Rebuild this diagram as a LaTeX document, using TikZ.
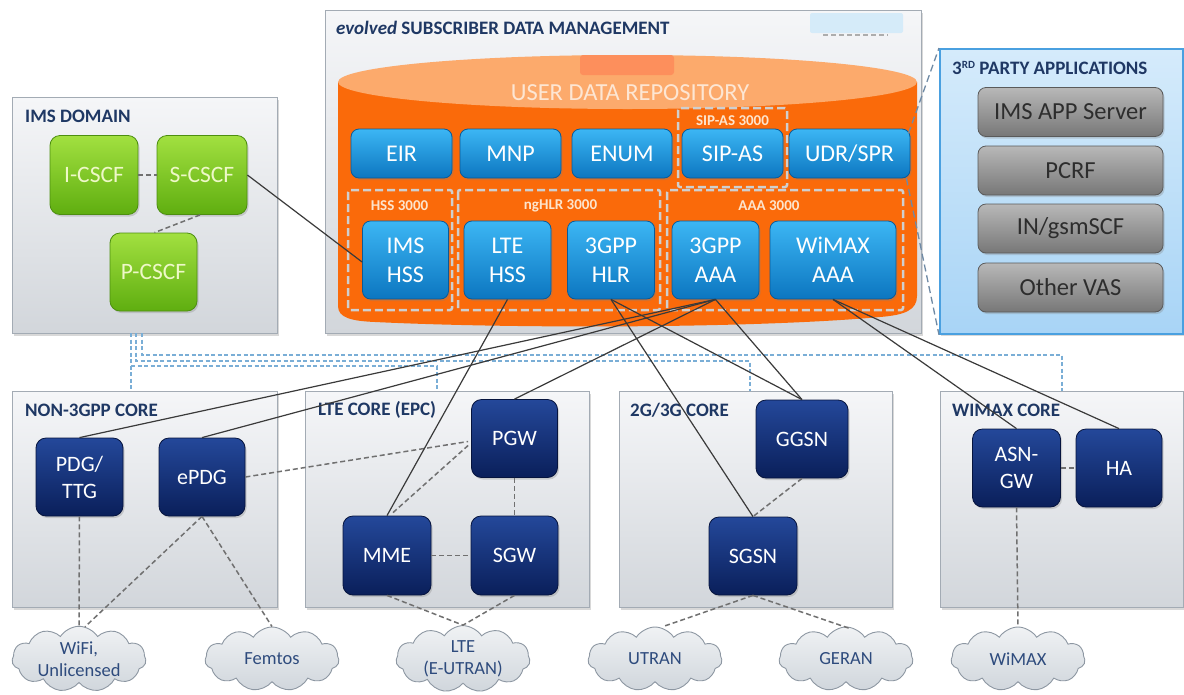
\documentclass[tikz,border=0pt]{standalone}
\usepackage{fontspec}
\setmainfont{Carlito}
\usetikzlibrary{shapes.symbols,shadows,calc}
\definecolor{boxT}{HTML}{F5F6F8}
\definecolor{boxBo}{HTML}{D2D6DB}
\definecolor{boxB}{HTML}{A3ABB4}
\definecolor{orng}{HTML}{FA6A0A}
\definecolor{orngL}{HTML}{FCAA6C}
\definecolor{salmon}{HTML}{FD8F5C}
\definecolor{bluT}{HTML}{3CB6F4}
\definecolor{bluB}{HTML}{0C76C0}
\definecolor{bluD}{HTML}{0A5A98}
\definecolor{grnT}{HTML}{A2E040}
\definecolor{grnB}{HTML}{5FAE10}
\definecolor{grnD}{HTML}{4D8F10}
\definecolor{grnTx}{HTML}{EEF8C8}
\definecolor{navT}{HTML}{24489A}
\definecolor{navB}{HTML}{0A1F5A}
\definecolor{navD}{HTML}{06143E}
\definecolor{gryT}{HTML}{B8B8B8}
\definecolor{gryB}{HTML}{777777}
\definecolor{gryD}{HTML}{5A5A5A}
\definecolor{gryTx}{HTML}{2D2D2D}
\definecolor{tpT}{HTML}{D5EBFB}
\definecolor{tpB}{HTML}{A8D4F6}
\definecolor{tpD}{HTML}{4AA0E0}
\definecolor{titleC}{HTML}{1F3864}
\definecolor{subTx}{HTML}{FDE4CC}
\definecolor{subD}{HTML}{CFCFCF}
\definecolor{cldT}{HTML}{F0F2F4}
\definecolor{cldB}{HTML}{D0D6DC}
\definecolor{cldD}{HTML}{8D97A2}
\definecolor{cldTx}{HTML}{2E4B7D}
\definecolor{lineC}{HTML}{3A3A3A}
\definecolor{dashC}{HTML}{707070}
\definecolor{busC}{HTML}{7AAED6}
\definecolor{callC}{HTML}{6F8AA5}
\definecolor{udrTx}{HTML}{FDE6D3}
\definecolor{lbluR}{HTML}{D5EBF9}
\newcommand\fsz[2]{\fontsize{#1}{#2}\selectfont}
\begin{document}
\begin{tikzpicture}[x=1pt,y=-1pt,
  shd/.style={drop shadow={opacity=0.3,shadow xshift=1.5pt,shadow yshift=-2pt}},
  container/.style={draw=boxB, line width=1.3, top color=boxT, bottom color=boxBo, inner sep=0, anchor=north west, shd},
  titletext/.style={font=\bfseries\fsz{19}{21}, text=titleC, anchor=west, inner sep=0},
  blu/.style={rectangle, rounded corners=8, draw=bluD, line width=0.8, top color=bluT, bottom color=bluB, text=white, font=\fsz{24}{29}, align=center, inner sep=0, shd},
  grn/.style={rectangle, rounded corners=10, draw=grnD, line width=0.8, top color=grnT, bottom color=grnB, text=grnTx, font=\fsz{23.5}{27}, align=center, inner sep=0, minimum width=88, minimum height=79, shd},
  nav/.style={rectangle, rounded corners=10, draw=navD, line width=0.8, top color=navT, bottom color=navB, text=white, font=\fsz{22}{27}, align=center, inner sep=0, minimum width=87, minimum height=78, shd},
  gry/.style={rectangle, rounded corners=8, draw=gryD, line width=0.8, top color=gryT, bottom color=gryB, text=gryTx, font=\fsz{24.5}{27}, align=center, inner sep=0, minimum width=185, minimum height=49, shd},
  cld/.style={cloud, cloud puffs=11, cloud puff arc=115, cloud ignores aspect, minimum width=134, minimum height=64, draw=cldD, line width=0.9, top color=cldT, bottom color=cldB, text=cldTx, font=\fsz{18.5}{22}, align=center, inner sep=0},
  subbox/.style={draw=subD, line width=2.5, dash pattern=on 8pt off 4pt, rounded corners=2},
  sublbl/.style={font=\bfseries\fsz{15}{17}, text=subTx, inner sep=0},
  con/.style={draw=lineC, line width=1.2},
  dsh/.style={draw=dashC, line width=1.5, dash pattern=on 5pt off 3pt},
  bus/.style={draw=busC, line width=1.2, dash pattern=on 4pt off 2.5pt},
  callout/.style={draw=callC, line width=1.3, dash pattern=on 7pt off 4pt}
]
\useasboundingbox (0,0) rectangle (1184,694);
\fill[white] (0,0) rectangle (1184,694);

% ---------- containers ----------
\node[container, minimum width=596, minimum height=323] (sdm) at (325,10) {};
\node[container, minimum width=265, minimum height=236] (ims) at (12,97) {};
\node[draw=tpD, line width=1.8, top color=tpT, bottom color=tpB, inner sep=0, anchor=north west, minimum width=243, minimum height=285, shd] (third) at (939,48) {};
\node[container, minimum width=265, minimum height=216] (non3) at (12,391) {};
\node[container, minimum width=284, minimum height=216] (ltec) at (305,391) {};
\node[container, minimum width=273, minimum height=216] (g23) at (619,391) {};
\node[container, minimum width=243, minimum height=216] (wimc) at (940,391) {};

% ---------- titles ----------
\node[titletext] (sdmt) at (336,28) {\textit{evolved} SUBSCRIBER DATA MANAGEMENT};
\node[titletext] (imst) at (25,116) {IMS DOMAIN};
\node[titletext] (tpt) at (952,68) {3\raisebox{6pt}{\fsz{11}{11}RD} PARTY APPLICATIONS};
\node[titletext] (non3t) at (25,410) {NON-3GPP CORE};
\node[titletext] (ltect) at (318,410) {LTE CORE (EPC)};
\node[titletext] (g23t) at (630,410) {2G/3G CORE};
\node[titletext] (wimct) at (952,410) {WIMAX CORE};

% small clipped tag in SDM corner
\fill[lbluR, rounded corners=2] (810,13) rectangle (903,33);
\draw[draw=gryB!60, line width=2, dash pattern=on 5pt off 3pt] (823,35) -- (888,35);

% ---------- cylinder ----------
\fill[orng] (338,82) -- (338,306) .. controls (338,318) and (352,321) .. (375,322)
  .. controls (520,329) and (760,328) .. (880,317)
  .. controls (905,315) and (917,310) .. (917,296) -- (917,82) -- cycle;
\fill[orngL] (627.5,82) ellipse [x radius=289.5, y radius=27];
\fill[salmon, rounded corners=3] (580,55) rectangle (674,75);
\node[font=\fsz{24.5}{26}, text=udrTx, inner sep=0] (udrt) at (630,93) {USER DATA REPOSITORY};

% sub-boxes
\draw[subbox] (678,108) rectangle (787,187);
\draw[subbox] (348,190) rectangle (452,310);
\draw[subbox] (458,190) rectangle (660,310);
\draw[subbox] (667,190) rectangle (903,310);
\node[sublbl] (l1) at (732.5,121) {SIP-AS 3000};
\node[sublbl] (l2) at (399.5,206) {HSS 3000};
\node[sublbl] (l3) at (560.5,206) {ngHLR 3000};
\node[sublbl] (l4) at (769,206) {AAA 3000};

% ---------- SDM nodes ----------
\node[blu, minimum width=101, minimum height=49] (eir) at (401.5,153.5) {EIR};
\node[blu, minimum width=101, minimum height=49] (mnp) at (510.5,153.5) {MNP};
\node[blu, minimum width=100, minimum height=49] (enum) at (622,153.5) {ENUM};
\node[blu, minimum width=101, minimum height=49] (sipas) at (732.5,153.5) {SIP-AS};
\node[blu, minimum width=121, minimum height=49] (udr) at (849.5,153.5) {UDR/SPR};
\node[blu, minimum width=86, minimum height=78] (imshss) at (405.5,260) {IMS\\HSS};
\node[blu, minimum width=87, minimum height=78] (ltehss) at (507.5,260) {LTE\\HSS};
\node[blu, minimum width=87, minimum height=78] (hlr) at (611,260) {3GPP\\HLR};
\node[blu, minimum width=87, minimum height=78] (aaa) at (715.5,260) {3GPP\\AAA};
\node[blu, minimum width=126, minimum height=78] (waaa) at (833,260) {WiMAX\\AAA};

% ---------- IMS nodes ----------
\node[grn] (icscf) at (94,175) {I-CSCF};
\node[grn, minimum width=90] (scscf) at (202,175) {S-CSCF};
\node[grn, minimum width=87, minimum height=78] (pcscf) at (153.5,272) {P-CSCF};

% ---------- 3rd party ----------
\node[gry] (appsrv) at (1070.5,112) {IMS APP Server};
\node[gry] (pcrf) at (1070.5,170.5) {PCRF};
\node[gry] (ingsm) at (1070.5,228.5) {IN/gsmSCF};
\node[gry] (ovas) at (1070.5,287.5) {Other VAS};

% ---------- core nodes ----------
\node[nav] (pdg) at (79.5,477) {PDG/\\TTG};
\node[nav, minimum width=86] (epdg) at (202,477) {ePDG};
\node[nav, minimum width=86] (pgw) at (514.5,438.5) {PGW};
\node[nav, minimum width=88, minimum height=79] (mme) at (387,555.5) {MME};
\node[nav, minimum width=87, minimum height=79] (sgw) at (514.5,555.5) {SGW};
\node[nav, minimum width=92] (ggsn) at (802,439) {GGSN};
\node[nav, minimum width=88] (sgsn) at (753,556) {SGSN};
\node[nav, minimum width=88] (asngw) at (1016.5,468) {ASN-\\GW};
\node[nav, minimum width=86] (ha) at (1119,468) {HA};

% ---------- clouds ----------
\node[cld] (wifi) at (79,659) {WiFi,\\Unlicensed};
\node[cld] (femto) at (272,659) {Femtos};
\node[cld] (lter) at (463,659) {LTE\\(E-UTRAN)};
\node[cld] (utran) at (655,659) {UTRAN};
\node[cld] (geran) at (846,659) {GERAN};
\node[cld] (wimr) at (1018,659) {WiMAX};

% ---------- blue dashed bus ----------
\coordinate (b1) at (142,333);
\coordinate (b2) at (136,333);
\coordinate (b3) at (131,333);
\coordinate (e1) at (1062,391);
\coordinate (e2) at (750,391);
\coordinate (e3) at (131,391);
\coordinate (e4) at (437,391);
\coordinate (j3) at (131,366);
\draw[bus] (b1) -- ++(0,22) -| (e1);
\draw[bus] (b2) -- ++(0,28) -| (e2);
\draw[bus] (b3) -- (e3);
\draw[bus] (j3) -| (e4);

% ---------- callout ----------
\draw[callout] ($(udr.north east)+(-2,5)$) -- (third.north west);
\draw[callout] ($(udr.south east)+(-4,0)$) -- (third.south west);

% ---------- dashed connectors ----------
\draw[dsh] (icscf.east) -- (scscf.west);
\draw[dsh] ($(scscf.south)+(-2,0)$) -- ($(pcscf.north)+(1,0)$);
\draw[dsh] (epdg.east) -- ($(pgw.west)+(-3,3)$);
\draw[dsh] ($(mme.north)+(6,-3)$) -- ($(pgw.west)+(-3,7)$);
\draw[dsh] (pgw.south) -- (sgw.north);
\draw[dsh] (mme.east) -- (sgw.west);
\draw[dsh] (ggsn.south) -- (sgsn.north);
\draw[dsh] (asngw.east) -- (ha.west);
\draw[dsh] (pdg.south) -- (wifi.north);
\draw[dsh] (epdg.south) -- ($(wifi.north)+(6,1)$);
\draw[dsh] (epdg.south) -- (femto.north);
\draw[dsh] (mme.south) -- (lter.north);
\draw[dsh] (sgw.south) -- (lter.north);
\draw[dsh] (sgsn.south) -- ($(utran.north)+(8,0)$);
\draw[dsh] (sgsn.south) -- ($(geran.north)+(4,2)$);
\draw[dsh] (asngw.south) -- (wimr.north);

% ---------- solid connectors ----------
\draw[con] (scscf.east) -- ($(imshss.west)+(0,2)$);
\draw[con] (ltehss.south) -- (mme.north);
\draw[con] (hlr.south) -- (ggsn.north);
\draw[con] (hlr.south) -- (sgsn.north);
\draw[con] (aaa.south) -- (ggsn.north);
\draw[con] (aaa.south) -- (pdg.north);
\draw[con] (aaa.south) -- (epdg.north);
\draw[con] (aaa.south) -- (pgw.north);
\draw[con] (waaa.south) -- (asngw.north);
\draw[con] (waaa.south) -- (ha.north);
\end{tikzpicture}
\end{document}
